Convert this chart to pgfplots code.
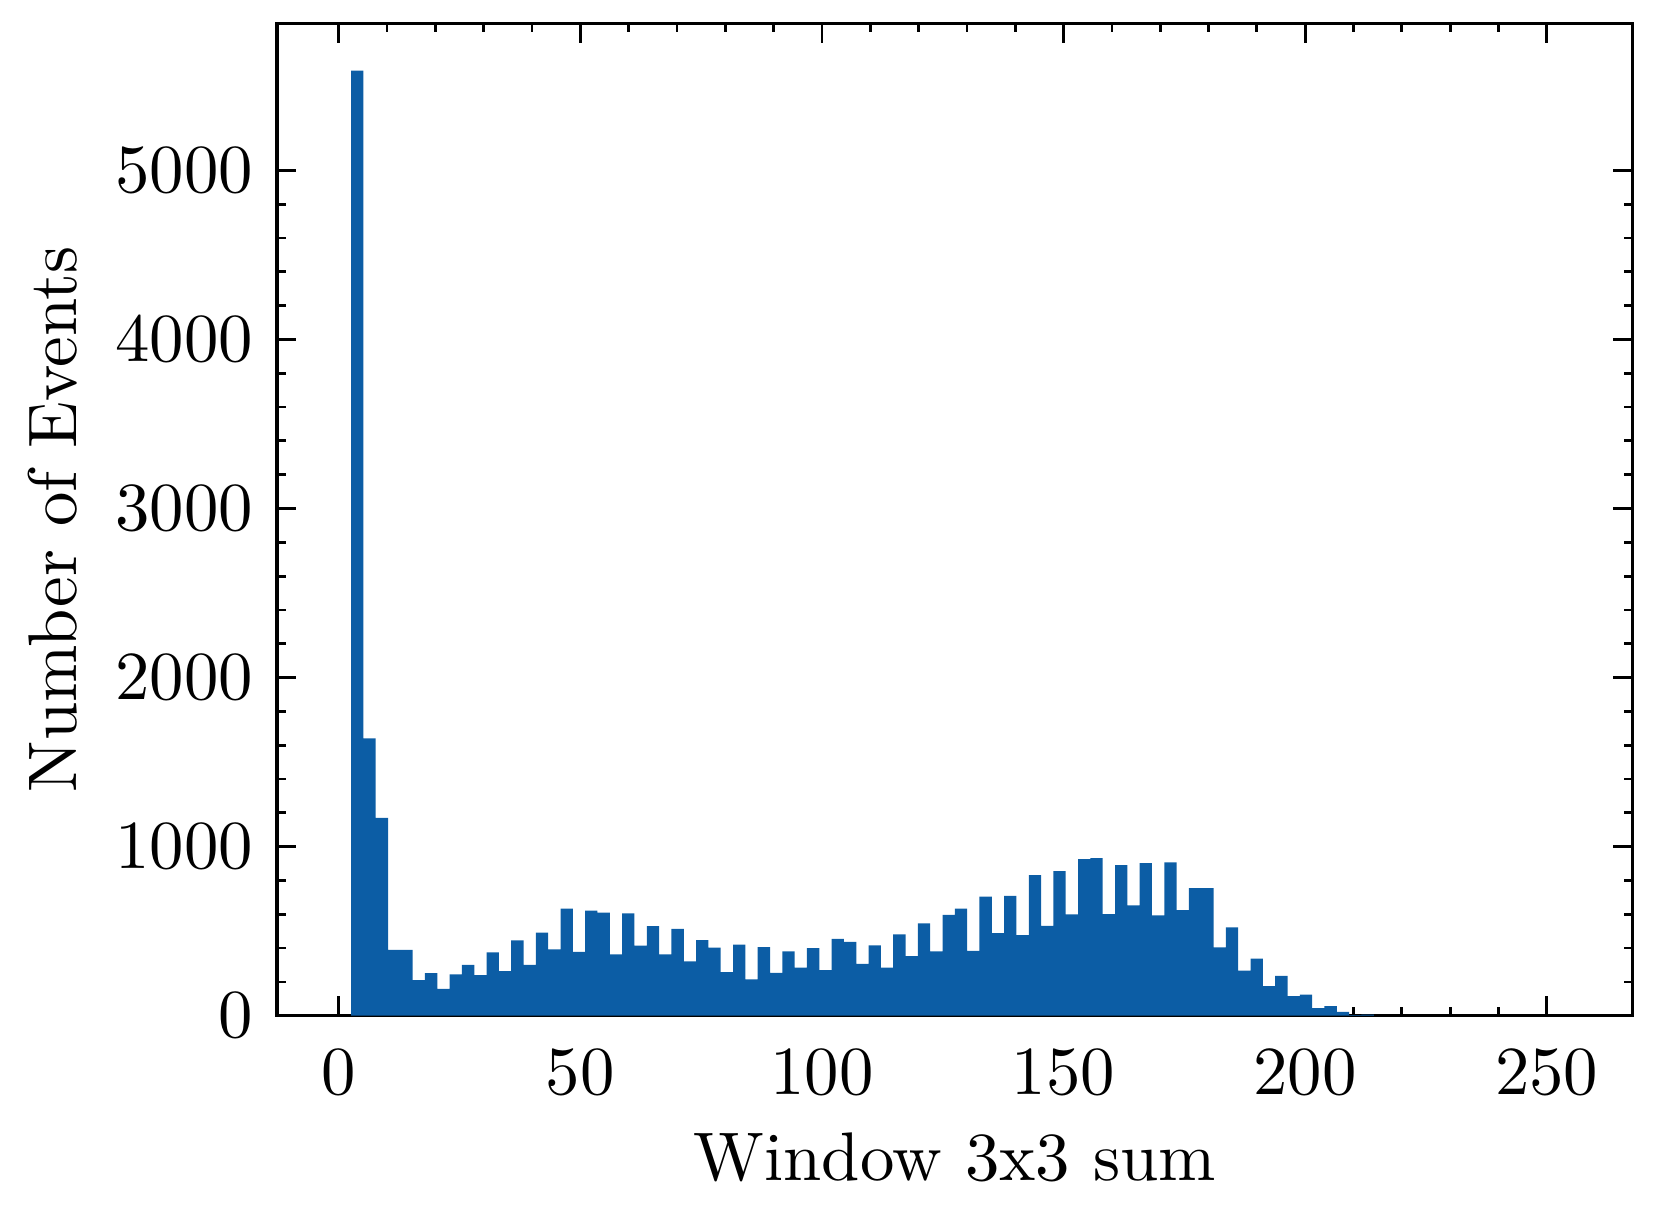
\documentclass[border=0pt]{standalone}
\usepackage{pgfplots}
\pgfplotsset{compat=1.18}
\definecolor{sciblue}{HTML}{0C5DA5}
\begin{document}
\begin{tikzpicture}
\begin{axis}[
  scale only axis,
  width=197.1pt, height=144.3pt,
  xmin=-12.75, xmax=267.75,
  ymin=0, ymax=5869.5,
  xtick={0,50,...,250},
  ytick={0,1000,...,5000},
  minor x tick num=4,
  minor y tick num=4,
  tick align=inside,
  major tick length=2.8pt,
  minor tick length=1.3pt,
  every tick/.style={black, line width=0.4pt},
  axis line style={line width=0.48pt},
  scaled y ticks=false,
  yticklabel style={/pgf/number format/1000 sep={}},
  xticklabel style={yshift=-1.5pt},
  xlabel={Window 3x3 sum},
  ylabel={Number of Events},
  xlabel style={at={(axis description cs:0.5,-0.1428)}, anchor=center},
  ylabel style={at={(axis description cs:-0.1654,0.5)}, anchor=center},
]
% histogram, bin width 2.55, left edges
\addplot[ybar interval, fill=sciblue, draw=none] coordinates {
(2.55,5590) (5.10,1640) (7.65,1170) (10.20,390) (12.75,390)
(15.30,211) (17.85,252) (20.40,158) (22.95,244) (25.50,300)
(28.05,240) (30.60,375) (33.15,264) (35.70,445) (38.25,300)
(40.80,491) (43.35,392) (45.90,633) (48.45,378) (51.00,621)
(53.55,609) (56.10,363) (58.65,605) (61.20,414) (63.75,530)
(66.30,363) (68.85,514) (71.40,321) (73.95,447) (76.50,402)
(79.05,258) (81.60,420) (84.15,215) (86.70,406) (89.25,254)
(91.80,380) (94.35,284) (96.90,400) (99.45,270) (102.00,455)
(104.55,436) (107.10,306) (109.65,416) (112.20,284) (114.75,481)
(117.30,353) (119.85,546) (122.40,380) (124.95,597) (127.50,633)
(130.05,384) (132.60,704) (135.15,489) (137.70,708) (140.25,477)
(142.80,832) (145.35,532) (147.90,855) (150.45,599) (153.00,926)
(155.55,932) (158.10,601) (160.65,891) (163.20,652) (165.75,903)
(168.30,593) (170.85,907) (173.40,625) (175.95,755) (178.50,755)
(181.05,404) (183.60,522) (186.15,266) (188.70,337) (191.25,175)
(193.80,235) (196.35,116) (198.90,124) (201.45,45) (204.00,57)
(206.55,22) (209.10,3) (211.65,6) (214.20,0)
};
\end{axis}
\path (current axis.south west) ++(-40.3pt,-29.3pt);
\path (current axis.north east) ++(3.85pt,3.4pt);
\end{tikzpicture}
\end{document}
